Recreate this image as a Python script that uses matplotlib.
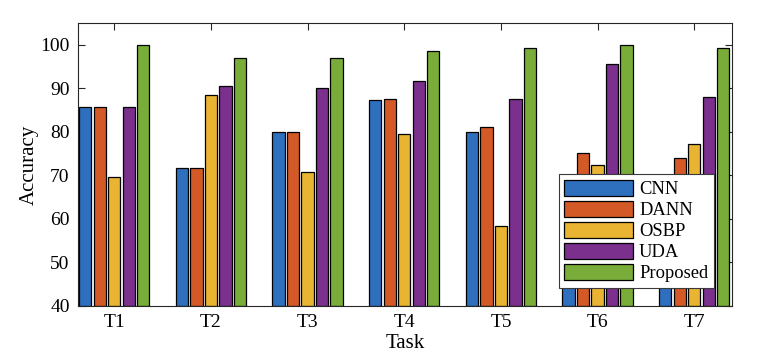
import matplotlib
matplotlib.use("Agg")
import matplotlib.pyplot as plt
import numpy as np

tasks = ["T1", "T2", "T3", "T4", "T5", "T6", "T7"]
methods = ["CNN", "DANN", "OSBP", "UDA", "Proposed"]
cnn = [85.8, 71.6, 80.0, 87.3, 80.0, 65.0, 62.0]
dann = [85.8, 71.6, 80.0, 87.6, 81.1, 75.2, 74.1]
osbp = [69.6, 88.5, 70.7, 79.4, 58.3, 72.3, 77.2]
uda = [85.6, 90.5, 90.0, 91.6, 87.5, 95.5, 88.0]
proposed = [100.0, 96.9, 96.9, 98.5, 99.3, 99.9, 99.3]
series = [cnn, dann, osbp, uda, proposed]
colors = ["#2E70BE", "#D35A26", "#E8B431", "#7B308D", "#79AC38"]

plt.rcParams["font.family"] = ["Liberation Serif", "DejaVu Serif"]

fig = plt.figure(figsize=(7.64, 3.64), dpi=100)
ax = fig.add_axes([78/764, 1 - 306/364, (732-78)/764, (306-23)/364])

x = np.arange(1, len(tasks) + 1)
pitch = 0.15
width = 0.128
for i, (vals, c, name) in enumerate(zip(series, colors, methods)):
    ax.bar(x + (i - 2) * pitch, np.array(vals) - 40, bottom=40, width=width,
           color=c, edgecolor="black", linewidth=0.9, label=name, zorder=2)

ax.set_xlim(0.625, 7.39)
ax.set_ylim(40, 105)
ax.set_xticks(x)
ax.set_xticklabels(tasks)
ax.set_yticks([40, 50, 60, 70, 80, 90, 100])
ax.tick_params(direction="in", top=True, right=True, labelsize=14,
               color="#262626", length=5, width=0.8, pad=6)
for s in ax.spines.values():
    s.set_color("#262626")
    s.set_linewidth(0.8)
ax.set_xlabel("Task", fontsize=15, labelpad=2)
ax.set_ylabel("Accuracy", fontsize=15, labelpad=1)

leg = ax.legend(loc="upper left", bbox_to_anchor=(0.735, 0.466),
                fontsize=13.3, frameon=True, fancybox=False, framealpha=1,
                edgecolor="#3a3a3a", handlelength=3.7, handleheight=0.95,
                labelspacing=0.15, borderpad=0.3, handletextpad=0.35,
                borderaxespad=0)
leg.get_frame().set_linewidth(0.8)
leg.set_zorder(5)

fig.savefig("out.png", dpi=100)
